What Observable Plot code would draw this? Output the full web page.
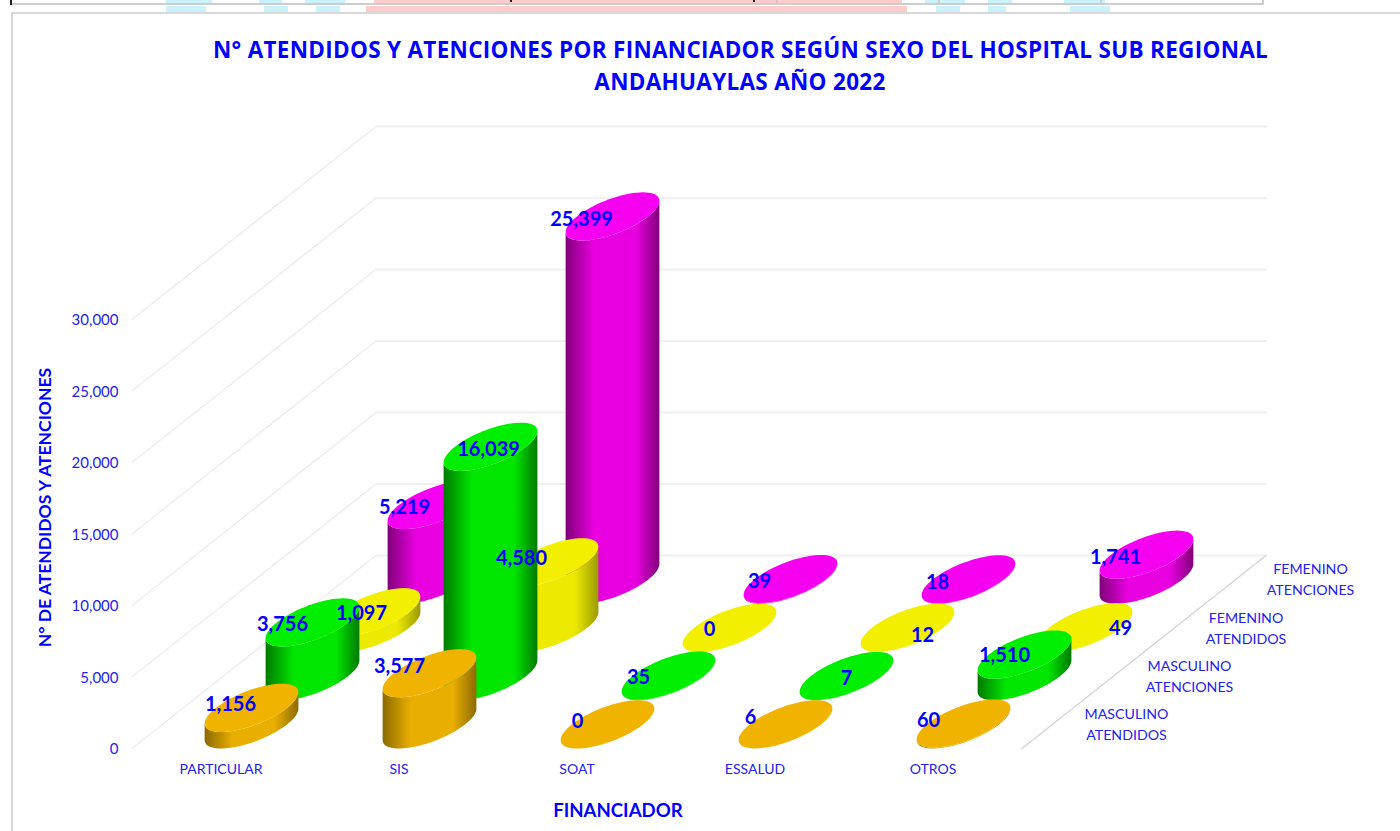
<!DOCTYPE html>
<html lang="es">
<head>
<meta charset="utf-8">
<script src="https://cdn.jsdelivr.net/npm/d3@7"></script>
<script src="https://cdn.jsdelivr.net/npm/@observablehq/plot@0.6"></script>
<style>
  html, body { margin: 0; padding: 0; background: #fff; }
  #page { position: relative; width: 1400px; height: 831px; overflow: hidden; background: #fff; }
  #page > .strip { position: absolute; }
  .b { background: #cbf1fb; } .p { background: #ffcccc; } .g { background: #cdcdcd; } .k { background: #222; }
  #title { position: absolute; left: 213px; width: 1054px; top: 34px; margin: 0; text-align: center;
    font: 700 22.5px/32px "Open Sans", sans-serif; color: #0000ff; letter-spacing: 0.3px; white-space: nowrap; }
  #chart { position: absolute; left: 0; top: 100px; }
  #chart svg { display: block; background: transparent; }
</style>
</head>
<body>
<div id="page">
  <div class="strip b" style="left:166px;top:0;width:46px;height:3px"></div>
  <div class="strip b" style="left:259px;top:0;width:23px;height:3px"></div>
  <div class="strip b" style="left:305px;top:0;width:40px;height:3px"></div>
  <div class="strip p" style="left:374px;top:0;width:528px;height:3px"></div>
  <div class="strip b" style="left:925px;top:0;width:40px;height:3px"></div>
  <div class="strip b" style="left:988px;top:0;width:24px;height:3px"></div>
  <div class="strip b" style="left:1064px;top:0;width:41px;height:3px"></div>
  <div class="strip b" style="left:166px;top:6px;width:40px;height:6px"></div>
  <div class="strip b" style="left:264px;top:6px;width:24px;height:6px"></div>
  <div class="strip b" style="left:316px;top:6px;width:24px;height:6px"></div>
  <div class="strip p" style="left:366px;top:6px;width:541px;height:6px"></div>
  <div class="strip b" style="left:936px;top:6px;width:24px;height:6px"></div>
  <div class="strip b" style="left:988px;top:6px;width:18px;height:6px"></div>
  <div class="strip b" style="left:1070px;top:6px;width:40px;height:6px"></div>
  <div class="strip g" style="left:11px;top:3px;width:1252px;height:2px"></div>
  <div class="strip g" style="left:1262px;top:0;width:2px;height:5px"></div>
  <div class="strip g" style="left:776px;top:0;width:2px;height:3px"></div>
  <div class="strip g" style="left:938px;top:0;width:2px;height:3px"></div>
  <div class="strip g" style="left:1100px;top:0;width:2px;height:3px"></div>
  <div class="strip k" style="left:10px;top:0;width:2px;height:5px"></div>
  <div class="strip k" style="left:510px;top:0;width:2px;height:2px"></div>
  <div class="strip k" style="left:753px;top:0;width:2px;height:2px"></div>
  <div class="strip" style="left:11px;top:12px;width:1389px;height:2px;background:#d9d9d9"></div>
  <div class="strip" style="left:11px;top:12px;width:2px;height:819px;background:#d9d9d9"></div>
  <h1 id="title">N° ATENDIDOS Y ATENCIONES POR FINANCIADOR SEGÚN SEXO DEL HOSPITAL SUB REGIONAL<br>ANDAHUAYLAS AÑO 2022</h1>
  <div id="chart"></div>
</div>
<script>
// ---- data ----
const categories = ["PARTICULAR", "SIS", "SOAT", "ESSALUD", "OTROS"];
const seriesNames = ["MASCULINO\nATENDIDOS", "MASCULINO\nATENCIONES", "FEMENINO\nATENDIDOS", "FEMENINO\nATENCIONES"];
const masculinoAtendidos  = [1156, 3577, 0, 6, 60];
const masculinoAtenciones = [3756, 16039, 35, 7, 1510];
const femeninoAtendidos   = [1097, 4580, 0, 12, 49];
const femeninoAtenciones  = [5219, 25399, 39, 18, 1741];
const seriesValues = [masculinoAtendidos, masculinoAtenciones, femeninoAtendidos, femeninoAtenciones];
const yTicks = [0, 5000, 10000, 15000, 20000, 25000, 30000];

// ---- styling and layout (not data) ----
const capColors = ["#f0b400", "#00ee00", "#f2f000", "#f500f0"];
const midColors = ["#e8ae00", "#00e600", "#ecea00", "#e800e0"];
const darkColors = ["#8c6a00", "#007a00", "#9c9a00", "#800078"];
// label nudges in px [dx, dy] per series, per category
const labelNudge = [
  [[-21,-3],[-30,-7],[-30,-3],[-35,-7],[-35,-3]],
  [[-30, 2],[ -2, 3],[-30, 2],[  0, 3],[-20, 1]],
  [[-12, 1],[-30,-4],[-20, 2],[ 15, 8],[ 35, 1]],
  [[-30, 3],[-31, 3],[-31, 3],[-31, 3],[-31, 3]]
];
const depthLabelDx = [74, 76, 71.5, 75];

// oblique projection: one depth row moves this far in x (categories) and y (value units)
const depthX = 61 / 178, depthY = 48.25 / (429 / 30000);
const maxDepth = seriesNames.length;
const project = (cat, depth, value) => [cat + depth * depthX, value + depth * depthY];

// a floor-plane circle seen through the projection
const rCat = 0.2, rDepth = 0.5;
const ellipsePoint = (cat, depth, value, t) =>
  project(cat + 0.5 + rCat * Math.cos(t), depth + 0.5 + rDepth * Math.sin(t), value);
const pxA = rCat * 178, pxB = rDepth * 61;
const t0 = Math.atan2(pxB, pxA); // right silhouette angle
const arc = (cat, depth, value, from, to, n = 48) =>
  d3.range(n + 1).map(i => ellipsePoint(cat, depth, value, from + (to - from) * i / n));

const wallLines = yTicks.map(v => [project(0, 0, v), project(0, maxDepth, v)]);
const backLines = yTicks.map(v => [project(0, maxDepth, v), project(categories.length, maxDepth, v)]);
const floorLine = [project(categories.length, 0, 0), project(categories.length, maxDepth, 0)];

const lineOf = (pts, opts) => Plot.line(pts, {x: d => d[0], y: d => d[1], curve: "linear", ...opts});

const gridMarks = [
  ...wallLines.map(l => lineOf(l, {stroke: "#ededed", strokeWidth: 1.5})),
  ...backLines.map(l => lineOf(l, {stroke: "#f0f0f0", strokeWidth: 1.8})),
  lineOf(floorLine, {stroke: "#d4d4d4", strokeWidth: 1.3})
];

// gradients for the cylinder sides
const defs = () => {
  const svgNS = "http://www.w3.org/2000/svg";
  const d = document.createElementNS(svgNS, "defs");
  capColors.forEach((_, s) => {
    const g = document.createElementNS(svgNS, "linearGradient");
    g.setAttribute("id", "side" + s);
    [[0, darkColors[s]], [0.3, midColors[s]], [0.75, midColors[s]], [1, darkColors[s]]].forEach(([o, c]) => {
      const st = document.createElementNS(svgNS, "stop");
      st.setAttribute("offset", o);
      st.setAttribute("stop-color", c);
      g.appendChild(st);
    });
    d.appendChild(g);
  });
  return d;
};

// cylinders back row first, so nearer ones cover farther ones
const cylinderMarks = [];
for (let s = seriesValues.length - 1; s >= 0; --s) {
  seriesValues[s].forEach((v, c) => {
    const front0 = arc(c, s, 0, t0 + Math.PI, t0 + 2 * Math.PI);
    const frontV = arc(c, s, v, t0 + Math.PI, t0 + 2 * Math.PI).reverse();
    cylinderMarks.push(lineOf([...front0, ...frontV], {fill: `url(#side${s})`, stroke: "none"}));
    cylinderMarks.push(lineOf(arc(c, s, v, 0, 2 * Math.PI, 72), {fill: capColors[s], stroke: "none"}));
  });
}

// data labels
const labelMarks = [];
seriesValues.forEach((vals, s) => vals.forEach((v, c) => {
  const [x, y] = project(c + 0.5, s + 0.5, v);
  labelMarks.push(Plot.text([{x, y, v}], {
    x: "x", y: "y", text: d => d3.format(",")(d.v),
    dx: labelNudge[s][c][0], dy: labelNudge[s][c][1],
    fill: "#0000ff", fontSize: 20, fontWeight: 700, fontFamily: "Lato, sans-serif"
  }));
}));

const depthLabelMarks = seriesNames.map((name, s) => {
  const [x, y] = project(categories.length, s + 0.5, 0);
  return Plot.text([{x, y, name}], {
    x: "x", y: "y", text: "name", dx: depthLabelDx[s], dy: -1.5, lineHeight: 1.48,
    fill: "#2222ee", fontSize: 14.2, fontFamily: "Lato, sans-serif"
  });
});

const chart = Plot.plot({
  width: 1400,
  height: 731,
  marginLeft: 131.5,
  marginBottom: 83,
  marginTop: 27,
  marginRight: 378.5,
  style: {fontFamily: "Lato, sans-serif", background: "transparent", overflow: "visible"},
  x: {domain: [0, categories.length], range: [131.5, 1021.5]},
  y: {domain: [0, 30000], range: [648, 219]},
  marks: [
    defs,
    ...gridMarks,
    ...cylinderMarks,
    Plot.axisY({
      ticks: yTicks, tickSize: 0, tickPadding: 13.5, label: null, dy: 1,
      tickFormat: d3.format(","), fontSize: 15, fill: "#2222ee", color: "#2222ee"
    }),
    Plot.axisX({
      ticks: categories.map((_, i) => i + 0.5), tickSize: 0, tickPadding: 16, label: null,
      tickFormat: d => categories[d - 0.5], fontSize: 14, fill: "#2222ee", color: "#2222ee"
    }),
    ...labelMarks,
    ...depthLabelMarks,
    Plot.text([{x: (categories.length * 0.546), y: 0}], {
      x: "x", y: "y", dy: 63, text: () => "FINANCIADOR",
      fill: "#0000ff", fontSize: 18.6, fontWeight: 700, fontFamily: "Lato, sans-serif"
    }),
    Plot.text([{x: -0.484, y: 16850}], {
      x: "x", y: "y", rotate: -90, text: () => "N° DE ATENDIDOS Y ATENCIONES",
      fill: "#0000ff", fontSize: 17.5, fontWeight: 700, fontFamily: "Lato, sans-serif"
    })
  ]
});
document.getElementById("chart").appendChild(chart);
</script>
</body>
</html>
